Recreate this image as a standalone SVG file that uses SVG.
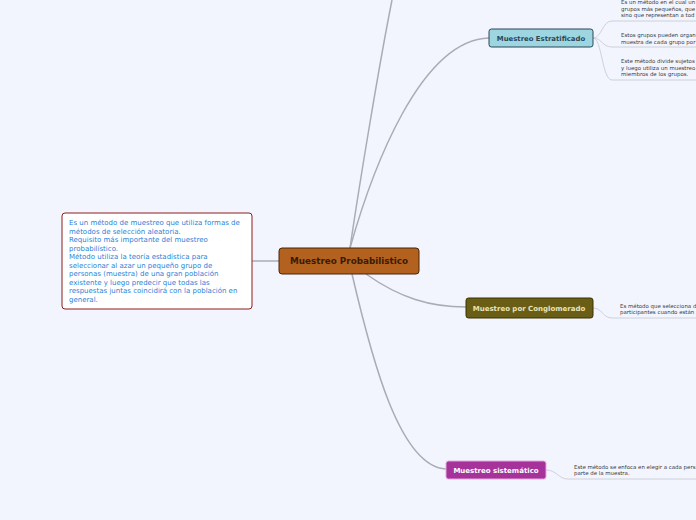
<svg xmlns="http://www.w3.org/2000/svg" width="696" height="520" viewBox="0 0 696 520">
<style>
.bg{fill:#f2f5fe}
.main{fill:none;stroke:#ababb5;stroke-width:1.5}
.sub{fill:none;stroke:#c9ccd6;stroke-width:0.9}
.t{font-family:"DejaVu Sans",Verdana,sans-serif}
.small{font-family:"DejaVu Sans",Verdana,sans-serif;font-size:5.45px;fill:#3a3a3a}
.desc{font-family:"DejaVu Sans",Verdana,sans-serif;font-size:7px;fill:#2b7fd8}
</style>
<rect class="bg" width="696" height="520"/>
<g id="connectors">
<path class="main" d="M350,248 C360,180 380,60 392,0"/>
<path class="main" d="M350,248 C372,170 420,40 489,38"/>
<path class="main" d="M366,274 C400,298 430,307 466,307"/>
<path class="main" d="M352,274 C372,360 400,467 446,469"/>
<path class="main" d="M252,261 L279,261"/>
<path class="sub" d="M593,38 C602,38 602,21 612,21 L696,21"/>
<path class="sub" d="M593,38 C602,38 602,47 612,47 L696,47"/>
<path class="sub" d="M593,38 C602,38 602,80 612,80 L696,80"/>
<path class="sub" d="M593,308 C602,308 603,318 612,318 L696,318"/>
<path class="sub" d="M546,470 C557,470 558,479 568,479 L696,479"/>
</g>
<g id="central">
<rect x="279" y="248" width="140" height="26" rx="3" fill="#b3611f" stroke="#4a2608" stroke-width="1"/>
<text class="t" x="349" y="264" text-anchor="middle" font-size="8.8" font-weight="bold" fill="#3a1c04">Muestreo Probabilistico</text>
</g>
<g id="definition">
<rect x="62" y="213" width="190" height="96" rx="3" fill="#ffffff" stroke="#8e1c1c" stroke-width="1"/>
<text class="desc" x="69" y="225">Es un método de muestreo que utiliza formas de</text>
<text class="desc" x="69" y="233.5">métodos de selección aleatoria.</text>
<text class="desc" x="69" y="242">Requisito más importante del muestreo</text>
<text class="desc" x="69" y="250.5">probabilístico.</text>
<text class="desc" x="69" y="259">Método utiliza la teoría estadística para</text>
<text class="desc" x="69" y="267.5">seleccionar al azar un pequeño grupo de</text>
<text class="desc" x="69" y="276">personas (muestra) de una gran población</text>
<text class="desc" x="69" y="284.5">existente y luego predecir que todas las</text>
<text class="desc" x="69" y="293">respuestas juntas coincidirá con la población en</text>
<text class="desc" x="69" y="301.5">general.</text>
</g>
<g id="estratificado">
<rect x="489" y="29" width="104" height="18" rx="2.5" fill="#9dd5e0" stroke="#2c4656" stroke-width="1"/>
<text class="t" x="541" y="41" text-anchor="middle" font-size="6.9" font-weight="bold" fill="#2c4656">Muestreo Estratificado</text>
</g>
<g id="estratificado-1">
<text class="small" x="621" y="4">Es un método en el cual un</text>
<text class="small" x="621" y="10.5">grupos más pequeños, que</text>
<text class="small" x="621" y="17">sino que representan a tod</text>
</g>
<g id="estratificado-2">
<text class="small" x="621" y="37">Estos grupos pueden organ</text>
<text class="small" x="621" y="43.5">muestra de cada grupo por</text>
</g>
<g id="estratificado-3">
<text class="small" x="621" y="63">Este método divide sujetos</text>
<text class="small" x="621" y="69.5">y luego utiliza un muestreo</text>
<text class="small" x="621" y="76">miembros de los grupos.</text>
</g>
<g id="conglomerado">
<rect x="466" y="298" width="127" height="20" rx="2.5" fill="#6a5d16" stroke="#3a3300" stroke-width="1"/>
<text class="t" x="529" y="311" text-anchor="middle" font-size="7" font-weight="bold" fill="#ebe3b8">Muestreo por Conglomerado</text>
</g>
<g id="conglomerado-1">
<text class="small" x="620" y="307.5">Es método que selecciona d</text>
<text class="small" x="620" y="314">participantes cuando están</text>
</g>
<g id="sistematico">
<rect x="446" y="461" width="100" height="18" rx="2.5" fill="#a5339a" stroke="#e6a6dc" stroke-width="1"/>
<text class="t" x="496" y="473" text-anchor="middle" font-size="7" font-weight="bold" fill="#ffffff">Muestreo sistemático</text>
</g>
<g id="sistematico-1">
<text class="small" x="574" y="468.5">Este método se enfoca en elegir a cada pers</text>
<text class="small" x="574" y="475">parte de la muestra.</text>
</g>
</svg>
